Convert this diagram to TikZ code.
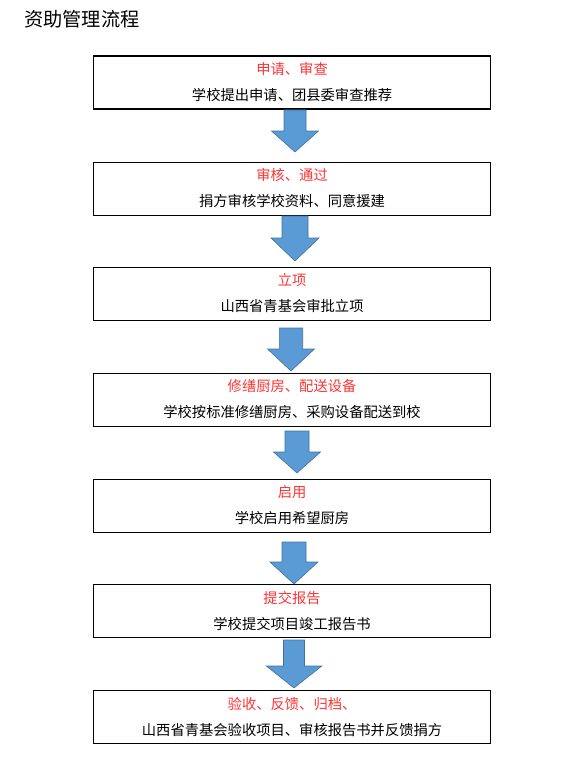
\documentclass[tikz,border=0pt]{standalone}
\usepackage{fontspec}
\newfontfamily\cjk{Noto Sans CJK SC}
\definecolor{redtxt}{RGB}{255,51,51}
\definecolor{arrfill}{RGB}{91,155,213}
\definecolor{arrline}{RGB}{65,113,156}
\newcommand\flowarrow[6]{%
  \draw[blockarrow] ({#1-#5},#2) -- ({#1+#5},#2) -- ({#1+#5},#3) -- ({#1+#6},#3) -- (#1,#4) -- ({#1-#6},#3) -- ({#1-#5},#3) -- cycle;}
\begin{document}
\begin{tikzpicture}[x=1pt,y=-1pt,
  stepbox/.style={draw=black,line width=1.1pt,minimum width=397pt,minimum height=53pt,inner sep=0pt,anchor=north west},
  redlabel/.style={font=\cjk\fontsize{14.3}{16}\selectfont,text=redtxt,anchor=base,inner sep=0pt},
  blacklabel/.style={font=\cjk\fontsize{14.3}{16}\selectfont,text=black,anchor=base,inner sep=0pt},
  titlelabel/.style={font=\cjk\fontsize{19.2}{22}\selectfont,anchor=base west,inner sep=0pt},
  blockarrow/.style={fill=arrfill,draw=arrline,line width=0.6pt,line join=miter}]
\useasboundingbox (0,0) rectangle (581,773);
\node[titlelabel] (title) at (24,27) {资助管理流程};

\node[stepbox] (b1) at (93,55.5) {};
\node[stepbox] (b2) at (93,161.5) {};
\node[stepbox] (b3) at (93,267) {};
\node[stepbox] (b4) at (93,372.7) {};
\node[stepbox] (b5) at (93,478.5) {};
\node[stepbox] (b6) at (93,584.3) {};
\node[stepbox] (b7) at (93,690.3) {};

\node[redlabel] (r1) at ([yshift=-18.9pt]b1.north) {申请、审查};
\node[blacklabel] (t1) at ([yshift=-44.9pt]b1.north) {学校提出申请、团县委审查推荐};
\node[redlabel] (r2) at ([yshift=-18.9pt]b2.north) {审核、通过};
\node[blacklabel] (t2) at ([yshift=-44.9pt]b2.north) {捐方审核学校资料、同意援建};
\node[redlabel] (r3) at ([yshift=-18.9pt]b3.north) {立项};
\node[blacklabel] (t3) at ([yshift=-44.9pt]b3.north) {山西省青基会审批立项};
\node[redlabel] (r4) at ([yshift=-18.9pt]b4.north) {修缮厨房、配送设备};
\node[blacklabel] (t4) at ([yshift=-44.9pt]b4.north) {学校按标准修缮厨房、采购设备配送到校};
\node[redlabel] (r5) at ([yshift=-18.9pt]b5.north) {启用};
\node[blacklabel] (t5) at ([yshift=-44.9pt]b5.north) {学校启用希望厨房};
\node[redlabel] (r6) at ([yshift=-18.9pt]b6.north) {提交报告};
\node[blacklabel] (t6) at ([yshift=-44.9pt]b6.north) {学校提交项目竣工报告书};
\node[redlabel] (r7) at ([yshift=-18.9pt]b7.north) {验收、反馈、归档、};
\node[blacklabel] (t7) at ([yshift=-44.9pt]b7.north) {山西省青基会验收项目、审核报告书并反馈捐方};

\flowarrow{295}{110}{131}{152}{11}{23.5}
\flowarrow{295}{216}{238}{261}{13}{24}
\flowarrow{291}{328}{349}{371}{11.7}{23.5}
\flowarrow{297}{431}{452}{473}{12}{23.5}
\flowarrow{294}{542}{562}{584}{12}{24}
\flowarrow{294}{640}{666}{688}{10.5}{27.7}
\end{tikzpicture}
\end{document}
